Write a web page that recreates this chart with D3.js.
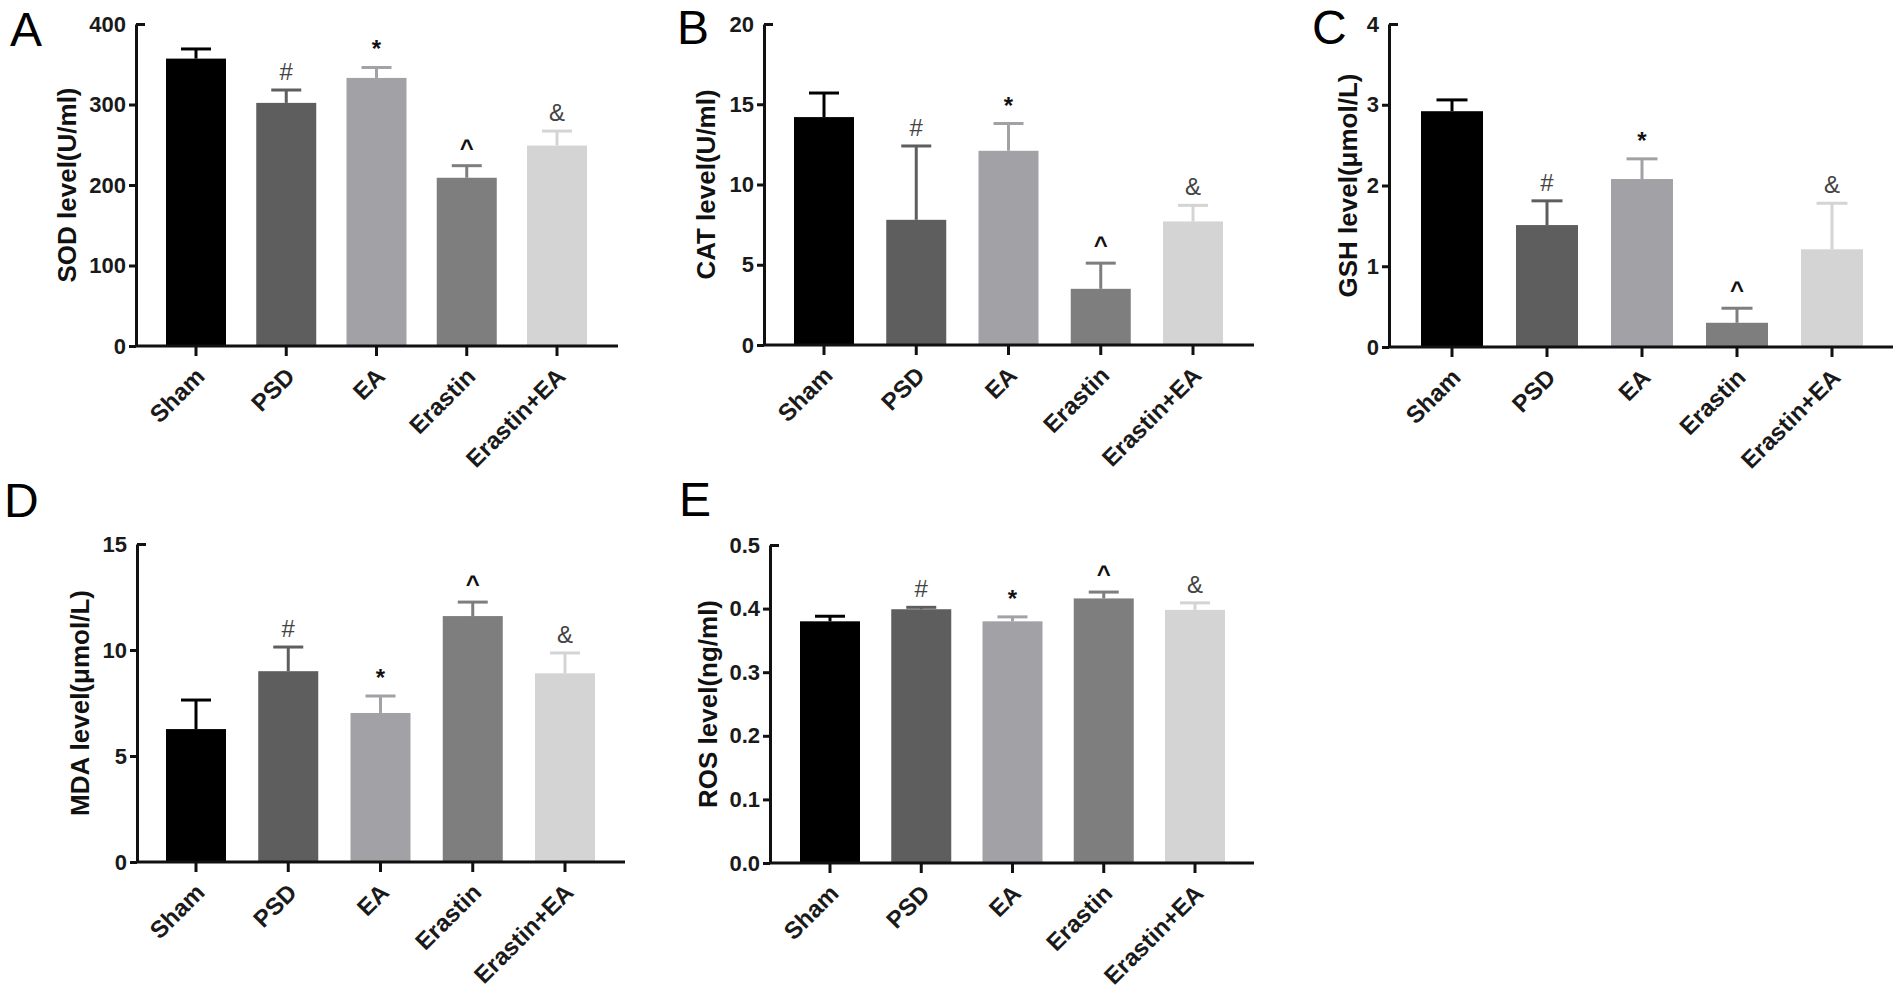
<!DOCTYPE html>
<html>
<head>
<meta charset="utf-8">
<script src="https://cdn.jsdelivr.net/npm/d3@7"></script>
<style>
  body { margin: 0; background: #fff; }
  svg { display: block; }
  text { font-family: "Liberation Sans", Arial, sans-serif; }
</style>
</head>
<body>
<div id="chart"></div>
<script>
// Data
const groups = ['Sham', 'PSD', 'EA', 'Erastin', 'Erastin+EA'];
const marks = ['', '#', '*', '^', '&'];

const sodMean = [357, 302, 333, 209, 249];
const sodErr = [12, 16, 13, 15, 18];
const sodTicks = [0, 100, 200, 300, 400];

const catMean = [14.2, 7.8, 12.1, 3.5, 7.7];
const catErr = [1.5, 4.6, 1.7, 1.6, 1.0];
const catTicks = [0, 5, 10, 15, 20];

const gshMean = [2.92, 1.51, 2.08, 0.30, 1.21];
const gshErr = [0.14, 0.30, 0.25, 0.18, 0.57];
const gshTicks = [0, 1, 2, 3, 4];

const mdaMean = [6.27, 9.0, 7.03, 11.6, 8.9];
const mdaErr = [1.37, 1.14, 0.80, 0.66, 0.96];
const mdaTicks = [0, 5, 10, 15];

const rosMean = [0.380, 0.399, 0.380, 0.416, 0.398];
const rosErr = [0.008, 0.003, 0.007, 0.010, 0.011];
const rosTicks = [0, 0.1, 0.2, 0.3, 0.4, 0.5];

const barColors = ['#000000', '#5e5e5e', '#a2a2a6', '#7e7e7e', '#d4d4d4'];
const markColors = {'#': '#444', '*': '#111', '^': '#111', '&': '#444'};

const svg = d3.select('#chart').append('svg')
    .attr('width', 1902).attr('height', 993);

// panel layout: axis x, plot top/bottom, x-axis end, first/last bar centre
const panels = [
  {letter: 'A', lx: 10, ly: 46, ax: 136, top: 24, bottom: 346, xEnd: 618, c0: 196, c1: 557, bw: 60, tx: 67,
   mean: sodMean, err: sodErr, ticks: sodTicks, title: 'SOD level(U/ml)', fmt: d3.format('d')},
  {letter: 'B', lx: 677, ly: 44, ax: 764, top: 24, bottom: 345, xEnd: 1254, c0: 824, c1: 1193, bw: 60, tx: 706,
   mean: catMean, err: catErr, ticks: catTicks, title: 'CAT level(U/ml)', fmt: d3.format('d')},
  {letter: 'C', lx: 1312, ly: 44, ax: 1389, top: 24, bottom: 347, xEnd: 1893, c0: 1452, c1: 1832, bw: 62, tx: 1348,
   mean: gshMean, err: gshErr, ticks: gshTicks, title: 'GSH level(μmol/L)', fmt: d3.format('d')},
  {letter: 'D', lx: 4, ly: 517, ax: 137, top: 544, bottom: 862, xEnd: 625, c0: 196, c1: 565, bw: 60, tx: 80,
   mean: mdaMean, err: mdaErr, ticks: mdaTicks, title: 'MDA level(μmol/L)', fmt: d3.format('d')},
  {letter: 'E', lx: 679, ly: 516, ax: 770, top: 545, bottom: 863, xEnd: 1254, c0: 830, c1: 1195, bw: 60, tx: 708,
   mean: rosMean, err: rosErr, ticks: rosTicks, title: 'ROS level(ng/ml)', fmt: d3.format('.1f')}
];

function drawPanel(p) {
  const g = svg.append('g').attr('class', 'panel');
  const step = (p.c1 - p.c0) / (groups.length - 1);
  const pin = 1 - p.bw / step;
  const x = d3.scaleBand().domain(groups)
      .range([p.c0 - step / 2, p.c1 + step / 2])
      .paddingInner(pin).paddingOuter(pin / 2);
  const y = d3.scaleLinear().domain([0, d3.max(p.ticks)]).range([p.bottom, p.top]);

  const rows = groups.map((k, i) => ({k, m: p.mean[i], e: p.err[i], c: barColors[i], mk: marks[i]}));

  // bars
  g.selectAll('.bar').data(rows).enter().append('rect')
      .attr('class', 'bar')
      .attr('x', d => x(d.k))
      .attr('y', d => y(d.m))
      .attr('width', x.bandwidth())
      .attr('height', d => p.bottom - y(d.m))
      .style('fill', d => d.c);

  // error bars (upper only)
  const cx = d => x(d.k) + x.bandwidth() / 2;
  g.selectAll('.err').data(rows).enter().append('line')
      .attr('x1', cx).attr('x2', cx)
      .attr('y1', d => y(d.m)).attr('y2', d => y(d.m + d.e))
      .style('stroke', d => d.c).style('stroke-width', 3);
  g.selectAll('.cap').data(rows).enter().append('line')
      .attr('x1', d => cx(d) - x.bandwidth() / 4).attr('x2', d => cx(d) + x.bandwidth() / 4)
      .attr('y1', d => y(d.m + d.e)).attr('y2', d => y(d.m + d.e))
      .style('stroke', d => d.c).style('stroke-width', 3);

  // significance marks
  g.selectAll('.mark').data(rows.filter(d => d.mk)).enter().append('text')
      .attr('x', cx)
      .attr('y', d => y(d.m + d.e) - 10)
      .attr('text-anchor', 'middle')
      .style('font-size', '24px')
      .style('font-weight', d => (d.mk === '*' || d.mk === '^') ? 'bold' : 'normal')
      .style('fill', d => markColors[d.mk])
      .text(d => d.mk);

  // y axis
  const yAxis = d3.axisLeft(y).tickValues(p.ticks).tickFormat(p.fmt)
      .tickSize(7).tickSizeOuter(0).tickPadding(3);
  const ya = g.append('g').attr('transform', `translate(${p.ax},0)`).call(yAxis);
  ya.select('.domain').style('stroke', '#111').style('stroke-width', 3);
  ya.selectAll('.tick line').style('stroke', '#111').style('stroke-width', 3);
  ya.selectAll('.tick:last-of-type line').attr('x2', 9);
  ya.selectAll('.tick text')
      .style('font-size', '22px').style('font-weight', 'bold').style('fill', '#1a1a1a');

  // x axis
  g.append('line')
      .attr('x1', p.ax).attr('x2', p.xEnd)
      .attr('y1', p.bottom).attr('y2', p.bottom)
      .style('stroke', '#111').style('stroke-width', 3);
  const xa = g.append('g').attr('transform', `translate(0,${p.bottom})`)
      .call(d3.axisBottom(x).tickSize(10));
  xa.select('.domain').remove();
  xa.selectAll('.tick line').style('stroke', '#111').style('stroke-width', 3);
  xa.selectAll('.tick text')
      .attr('x', 0).attr('y', 0).attr('dy', 0)
      .attr('text-anchor', 'end')
      .attr('transform', 'translate(10,32) rotate(-45)')
      .style('font-size', '24px').style('font-weight', 'bold').style('fill', '#1a1a1a');

  // y title
  g.append('text')
      .attr('transform', `translate(${p.tx},${(p.top + p.bottom) / 2}) rotate(-90)`)
      .attr('text-anchor', 'middle')
      .attr('dy', '0.35em')
      .style('font-size', '26px').style('font-weight', 'bold').style('fill', '#111')
      .text(p.title);

  // panel letter
  svg.append('text')
      .attr('x', p.lx).attr('y', p.ly)
      .style('font-size', '48px').style('fill', '#000')
      .text(p.letter);
}

panels.forEach(drawPanel);
</script>
</body>
</html>
